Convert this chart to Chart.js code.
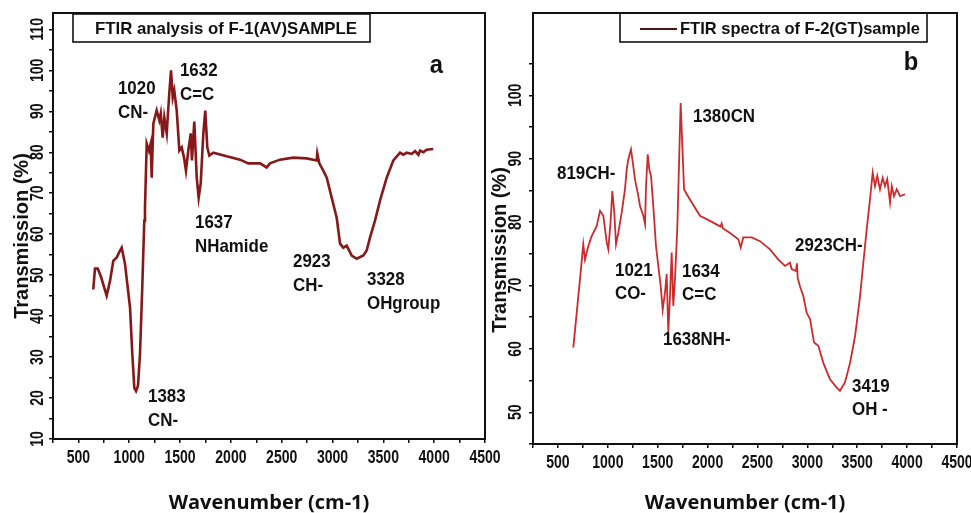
<!DOCTYPE html>
<html>
<head>
<meta charset="utf-8">
<title>FTIR spectra F-1 / F-2</title>
<script src="https://cdn.jsdelivr.net/npm/chart.js@4.4.1/dist/chart.umd.min.js"></script>
<style>
  html, body { margin: 0; padding: 0; background: #fff; }
  #wrap { position: relative; width: 971px; height: 513px; }
  #wrap canvas { position: absolute; left: 0; top: 0; }
</style>
</head>
<body>
<div id="wrap">
  <canvas id="chartA" width="971" height="513"></canvas>
  <canvas id="chartB" width="971" height="513"></canvas>
</div>
<script>
// F-1 (AV) sample: wavenumber (cm-1) / transmission (%)
const waveA = [646, 663, 690, 722, 778, 811, 843, 877, 899, 926, 958, 991, 1008, 1030, 1050, 1067, 1086, 1106,
  1128, 1148, 1155, 1172, 1194, 1211, 1221, 1237, 1270, 1296, 1310, 1329, 1345, 1369, 1394, 1411, 1428, 1443,
  1467, 1493, 1516, 1539, 1558, 1581, 1605, 1617, 1640, 1664, 1683, 1703, 1729, 1748, 1768, 1788, 1827, 1959,
  2090, 2171, 2287, 2352, 2385, 2483, 2614, 2746, 2844, 2850, 2870, 2909, 2943, 2992, 3041, 3074, 3106, 3139,
  3189, 3238, 3303, 3336, 3369, 3418, 3467, 3533, 3598, 3664, 3697, 3730, 3779, 3812, 3845, 3861, 3894, 3926, 3991];
const transA = [46.5, 51.6, 51.6, 49.6, 45.0, 48.6, 53.5, 54.3, 55.5, 56.7, 52.8, 45.7, 42.0, 30.8, 22.5, 21.7, 23.0, 30.8,
  46.9, 63.3, 66.5, 82.1, 80.4, 82.1, 73.8, 87.0, 90.2, 87.8, 89.5, 83.6, 88.5, 84.6, 94.4, 100.0, 93.4, 95.1,
  90.2, 80.4, 81.2, 78.7, 75.5, 80.4, 84.6, 78.0, 87.5, 73.8, 68.9, 72.4, 84.6, 90.2, 81.2, 79.2, 79.9, 79.0,
  78.2, 77.3, 77.3, 76.3, 77.3, 78.2, 78.7, 78.5, 78.0, 79.7, 77.3, 75.5, 73.8, 68.9, 64.0, 57.7, 56.7, 57.2,
  54.8, 54.0, 54.8, 56.0, 59.2, 63.3, 68.2, 73.8, 78.0, 79.9, 79.4, 79.9, 79.6, 80.3, 79.4, 80.4, 80.0, 80.6, 80.8];

// F-2 (GT) sample
const waveB = [654, 688, 721, 754, 771, 804, 838, 889, 922, 955, 989, 1005, 1029, 1045, 1065, 1082, 1105, 1139,
  1172, 1189, 1205, 1232, 1249, 1272, 1306, 1323, 1356, 1373, 1383, 1400, 1416, 1433, 1456, 1483, 1506, 1530,
  1550, 1573, 1590, 1606, 1623, 1640, 1656, 1673, 1696, 1713, 1730, 1747, 1764, 1791, 1841, 1924, 2024, 2130,
  2141, 2155, 2225, 2308, 2332, 2358, 2442, 2525, 2626, 2709, 2776, 2826, 2843, 2886, 2896, 2903, 2926, 2960,
  2993, 3027, 3067, 3110, 3160, 3227, 3294, 3327, 3377, 3428, 3478, 3528, 3561, 3595, 3628, 3655, 3678, 3701,
  3728, 3755, 3778, 3801, 3829, 3846, 3869, 3896, 3929, 3979];
const transB = [60.2, 65.7, 71.0, 76.5, 74.1, 76.2, 77.8, 79.4, 81.8, 81.0, 76.8, 75.7, 80.4, 84.9, 81.5, 76.5, 78.3, 81.5,
  85.2, 88.3, 89.9, 91.5, 89.6, 86.8, 84.1, 82.5, 81.0, 79.7, 85.7, 90.7, 88.3, 87.3, 82.5, 76.2, 73.1, 69.9,
  66.2, 68.9, 71.8, 62.6, 68.3, 75.2, 66.8, 71.0, 78.9, 88.8, 98.8, 92.0, 85.2, 84.4, 83.1, 81.0, 80.2, 79.3,
  79.8, 79.0, 78.3, 77.3, 76.0, 77.6, 77.6, 77.0, 75.7, 74.1, 73.1, 73.6, 72.6, 72.3, 73.5, 71.2, 69.9, 68.3,
  65.7, 64.7, 61.0, 60.5, 57.8, 55.2, 53.9, 53.4, 54.7, 57.8, 62.0, 68.3, 73.6, 78.9, 83.6, 87.8, 85.7, 87.3,
  85.2, 87.0, 85.7, 86.8, 83.1, 85.7, 84.1, 85.2, 84.1, 84.4];

// labelled tick values
const xTickLabels = [500, 1000, 1500, 2000, 2500, 3000, 3500, 4000, 4500];
const yTickLabelsA = [10, 20, 30, 40, 50, 60, 70, 80, 90, 100, 110];
const yTickLabelsB = [50, 60, 70, 80, 90, 100];

// band assignments written next to the peaks (anchor in wavenumber / %T)
const bandsA = [
  { w: 889, t: 95.6, lines: ['1020', 'CN-'] },
  { w: 1499, t: 99.8, lines: ['1632', 'C=C'] },
  { w: 1647, t: 62.8, lines: ['1637', 'NHamide'] },
  { w: 2611, t: 53.3, lines: ['2923', 'CH-'] },
  { w: 3339, t: 48.9, lines: ['3328', 'OHgroup'] },
  { w: 1185, t: 20.3, lines: ['1383', 'CN-'] }
];
const bandsB = [
  { w: 1854, t: 96.7, lines: ['1380CN'] },
  { w: 491, t: 87.7, lines: ['819CH-'] },
  { w: 1072, t: 72.4, lines: ['1021', 'CO-'] },
  { w: 1744, t: 72.1, lines: ['1634', 'C=C'] },
  { w: 1553, t: 61.5, lines: ['1638NH-'] },
  { w: 2876, t: 76.2, lines: ['2923CH-'] },
  { w: 3448, t: 54.1, lines: ['3419', 'OH -'] }
];

const INK = '#111';
const ARIAL = "'Liberation Sans', Arial, sans-serif";

function squeezedText(ctx, text, x, y, font, squeeze, align, angle) {
  ctx.save();
  ctx.font = font;
  ctx.textBaseline = 'middle';
  ctx.textAlign = align || 'left';
  ctx.translate(x, y);
  if (angle) ctx.rotate(angle);
  ctx.scale(squeeze, 1);
  ctx.fillText(text, 0, 0);
  ctx.restore();
}

function fitText(ctx, text, x, y, font, width) {
  ctx.save();
  ctx.font = font;
  const w = ctx.measureText(text).width;
  ctx.restore();
  squeezedText(ctx, text, x, y, font, width / w, 'left');
}

// condensed tick labels, frame, boxed legend, band labels, panel letter and y title
const panelDecor = {
  id: 'panelDecor',
  afterDraw(chart, args, opts) {
    const { ctx, chartArea: a } = chart;
    const xs = chart.scales.x, ys = chart.scales.y;
    ctx.save();
    ctx.fillStyle = INK;

    // tick labels (narrow bold digits)
    const tickFont = 'bold 18px ' + ARIAL;
    xs.ticks.forEach(t => {
      if (xTickLabels.includes(t.value)) {
        squeezedText(ctx, String(t.value), xs.getPixelForValue(t.value), a.bottom + opts.xLabelGap,
          tickFont, 0.78, 'center');
      }
    });
    ys.ticks.forEach(t => {
      if (opts.yLabels.includes(t.value)) {
        squeezedText(ctx, String(t.value), a.left - opts.yLabelGap, ys.getPixelForValue(t.value),
          tickFont, 0.78, 'center', -Math.PI / 2);
      }
    });

    // legend box
    const lg = opts.legend;
    ctx.fillStyle = '#fff';
    ctx.fillRect(a.left + lg.x0, a.top + lg.y0, lg.x1 - lg.x0, lg.y1 - lg.y0);
    ctx.strokeStyle = INK;
    ctx.lineWidth = 1.6;
    ctx.strokeRect(a.left + lg.x0, a.top + lg.y0, lg.x1 - lg.x0, lg.y1 - lg.y0);
    if (lg.swatch) {
      ctx.strokeStyle = lg.swatch;
      ctx.lineWidth = 2;
      ctx.beginPath();
      ctx.moveTo(a.left + lg.sx0, a.top + lg.ty);
      ctx.lineTo(a.left + lg.sx1, a.top + lg.ty);
      ctx.stroke();
    }
    ctx.fillStyle = INK;
    fitText(ctx, lg.text, a.left + lg.tx, a.top + lg.ty, 'bold 17px ' + ARIAL, lg.tw);

    // frame
    ctx.strokeStyle = INK;
    ctx.lineWidth = 2;
    ctx.strokeRect(a.left, a.top, a.right - a.left, a.bottom - a.top);

    // band labels
    opts.bands.forEach(b => {
      const px = xs.getPixelForValue(b.w);
      const py = ys.getPixelForValue(b.t);
      b.lines.forEach((s, i) => {
        squeezedText(ctx, s, px, py + i * opts.gap, 'bold 19px ' + ARIAL, 0.89, 'left');
      });
    });

    // panel letter
    const L = opts.letter;
    squeezedText(ctx, L.text, xs.getPixelForValue(L.w), ys.getPixelForValue(L.t),
      'bold 25px ' + ARIAL, 0.95, 'center');

    // y axis title
    squeezedText(ctx, 'Transmission (%)', a.left + opts.yTitle.dx, a.top + opts.yTitle.dy,
      'bold 20px ' + ARIAL, 1, 'center', -Math.PI / 2);

    ctx.restore();
  }
};

function makeChart(id, wave, trans, color, width, cfg) {
  const points = wave.map((w, i) => ({ x: w, y: trans[i] }));
  return new Chart(document.getElementById(id), {
    type: 'line',
    data: {
      datasets: [{
        data: points,
        borderColor: color,
        borderWidth: width,
        pointRadius: 0,
        tension: 0,
        fill: false
      }]
    },
    plugins: [panelDecor],
    options: {
      responsive: false,
      animation: false,
      devicePixelRatio: 1,
      events: [],
      layout: { padding: cfg.padding },
      plugins: {
        legend: { display: false },
        tooltip: { enabled: false },
        panelDecor: cfg.decor
      },
      scales: {
        x: {
          type: 'linear',
          min: 250,
          max: 4500,
          border: { display: false },
          grid: { drawOnChartArea: false, drawTicks: true, tickLength: 4, color: INK, lineWidth: 1.5 },
          ticks: { stepSize: 250, autoSkip: false, display: false },
          title: {
            display: true,
            text: 'Wavenumber (cm-1)',
            color: INK,
            padding: 0,
            font: { family: "'Open Sans', sans-serif", size: 20, weight: 'bold', lineHeight: 1 }
          },
          afterFit(scale) {
            scale.height = cfg.xHeight;
            scale.paddingLeft = 0;
            scale.paddingRight = 0;
          }
        },
        y: {
          min: cfg.yMin,
          max: cfg.yMax,
          border: { display: false },
          grid: { drawOnChartArea: false, drawTicks: true, tickLength: 4, color: INK, lineWidth: 1.5 },
          ticks: { stepSize: 5, includeBounds: false, autoSkip: false, display: false },
          afterBuildTicks(scale) {
            scale.ticks = scale.ticks.filter(t => t.value <= cfg.yTop);
          },
          afterFit(scale) {
            scale.width = 53;
            scale.paddingTop = 0;
            scale.paddingBottom = 0;
          }
        }
      }
    }
  });
}

makeChart('chartA', waveA, transA, '#861818', 2.6, {
  padding: { left: 0, top: 13, right: 486, bottom: 0 },
  xHeight: 74,
  yMin: 10, yMax: 114, yTop: 110,
  decor: {
    yLabels: yTickLabelsA,
    xLabelGap: 19,
    yLabelGap: 15,
    legend: { x0: 20, y0: 1, x1: 317, y1: 29, tx: 42, ty: 16, tw: 262, text: 'FTIR analysis of F-1(AV)SAMPLE' },
    bands: bandsA,
    gap: 24,
    letter: { text: 'a', w: 4022, t: 101 },
    yTitle: { dx: -31, dy: 223 }
  }
});

makeChart('chartB', waveB, transB, '#cc2a2c', 1.8, {
  padding: { left: 480, top: 13, right: 14, bottom: 0 },
  xHeight: 69,
  yMin: 45, yMax: 113, yTop: 105,
  decor: {
    yLabels: yTickLabelsB,
    xLabelGap: 19,
    yLabelGap: 17,
    legend: { x0: 87, y0: 0, x1: 394, y1: 29, sx0: 107, sx1: 144, swatch: '#4a1414', tx: 147, ty: 16, tw: 240,
      text: 'FTIR spectra of F-2(GT)sample' },
    bands: bandsB,
    gap: 23,
    letter: { text: 'b', w: 4039, t: 105.1 },
    yTitle: { dx: -33, dy: 237 }
  }
});
</script>
</body>
</html>
